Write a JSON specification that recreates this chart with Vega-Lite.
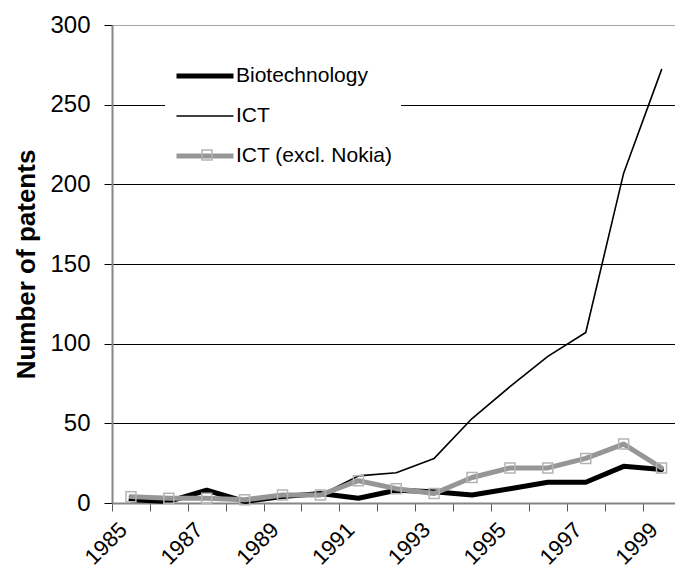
{
  "$schema": "https://vega.github.io/schema/vega-lite/v6.json",
  "width": 563,
  "height": 478,
  "autosize": {"type": "none"},
  "padding": {"left": 112, "top": 25, "right": 0, "bottom": 74},
  "background": "white",
  "config": {"view": {"stroke": null}, "font": "Liberation Sans"},
  "data": {"values": [
    {"year": 1985, "series": "Biotechnology", "value": 2},
    {"year": 1986, "series": "Biotechnology", "value": 1},
    {"year": 1987, "series": "Biotechnology", "value": 8},
    {"year": 1988, "series": "Biotechnology", "value": 1},
    {"year": 1989, "series": "Biotechnology", "value": 4},
    {"year": 1990, "series": "Biotechnology", "value": 6},
    {"year": 1991, "series": "Biotechnology", "value": 3},
    {"year": 1992, "series": "Biotechnology", "value": 8},
    {"year": 1993, "series": "Biotechnology", "value": 7},
    {"year": 1994, "series": "Biotechnology", "value": 5},
    {"year": 1995, "series": "Biotechnology", "value": 9},
    {"year": 1996, "series": "Biotechnology", "value": 13},
    {"year": 1997, "series": "Biotechnology", "value": 13},
    {"year": 1998, "series": "Biotechnology", "value": 23},
    {"year": 1999, "series": "Biotechnology", "value": 21},
    {"year": 1985, "series": "ICT", "value": 4},
    {"year": 1986, "series": "ICT", "value": 3},
    {"year": 1987, "series": "ICT", "value": 3},
    {"year": 1988, "series": "ICT", "value": 2},
    {"year": 1989, "series": "ICT", "value": 5},
    {"year": 1990, "series": "ICT", "value": 5},
    {"year": 1991, "series": "ICT", "value": 17},
    {"year": 1992, "series": "ICT", "value": 19},
    {"year": 1993, "series": "ICT", "value": 28},
    {"year": 1994, "series": "ICT", "value": 53},
    {"year": 1995, "series": "ICT", "value": 73},
    {"year": 1996, "series": "ICT", "value": 92},
    {"year": 1997, "series": "ICT", "value": 107},
    {"year": 1998, "series": "ICT", "value": 207},
    {"year": 1999, "series": "ICT", "value": 272},
    {"year": 1985, "series": "ICT (excl. Nokia)", "value": 4},
    {"year": 1986, "series": "ICT (excl. Nokia)", "value": 3},
    {"year": 1987, "series": "ICT (excl. Nokia)", "value": 3},
    {"year": 1988, "series": "ICT (excl. Nokia)", "value": 2},
    {"year": 1989, "series": "ICT (excl. Nokia)", "value": 5},
    {"year": 1990, "series": "ICT (excl. Nokia)", "value": 5},
    {"year": 1991, "series": "ICT (excl. Nokia)", "value": 14},
    {"year": 1992, "series": "ICT (excl. Nokia)", "value": 9},
    {"year": 1993, "series": "ICT (excl. Nokia)", "value": 6},
    {"year": 1994, "series": "ICT (excl. Nokia)", "value": 16},
    {"year": 1995, "series": "ICT (excl. Nokia)", "value": 22},
    {"year": 1996, "series": "ICT (excl. Nokia)", "value": 22},
    {"year": 1997, "series": "ICT (excl. Nokia)", "value": 28},
    {"year": 1998, "series": "ICT (excl. Nokia)", "value": 37},
    {"year": 1999, "series": "ICT (excl. Nokia)", "value": 22}
  ]},
  "layer": [
    {
      "mark": {"type": "line", "strokeJoin": "round", "strokeCap": "round"},
      "encoding": {
        "x": {
          "field": "year", "type": "quantitative",
          "scale": {"domain": [1984.5, 1999.355], "nice": false, "zero": false},
          "axis": {
            "values": [1985, 1986, 1987, 1988, 1989, 1990, 1991, 1992, 1993, 1994, 1995, 1996, 1997, 1998, 1999],
            "tickOffset": -18.95,
            "labelExpr": "datum.value % 2 == 1 ? '' + datum.value : ''",
            "labelAngle": -45, "labelAlign": "right", "labelBaseline": "middle",
            "labelFont": "Liberation Sans", "labelFontSize": 22, "labelColor": "black",
            "labelPadding": 15, "labelOffset": 11, "labelOverlap": false, "labelBound": false, "labelFlush": false,
            "tickSize": 8, "tickColor": "#595959", "tickWidth": 1,
            "domainColor": "#868686", "domainWidth": 2,
            "grid": false, "title": null
          }
        },
        "y": {
          "field": "value", "type": "quantitative",
          "scale": {"domain": [0, 300], "nice": false},
          "axis": {
            "values": [0, 50, 100, 150, 200, 250, 300],
            "grid": true,
            "gridColor": {"condition": {"test": "datum.value == 300 || datum.value == 0", "value": "#a6a6a6"}, "value": "black"},
            "gridWidth": 1,
            "tickSize": 8, "tickColor": "black",
            "labelFont": "Liberation Sans", "labelFontSize": 24, "labelColor": "black", "labelPadding": 14,
            "domainColor": "#868686", "domainWidth": 2,
            "title": "Number of patents", "titleFont": "Liberation Sans", "titleFontSize": 26,
            "titleFontWeight": "bold", "titleColor": "black", "titlePadding": 10
          }
        },
        "color": {
          "field": "series", "type": "nominal",
          "scale": {"domain": ["Biotechnology", "ICT", "ICT (excl. Nokia)"], "range": ["black", "black", "#969696"]},
          "legend": {
            "title": null, "orient": "none", "legendX": 53, "legendY": 32.5,
            "padding": 8, "fillColor": "white",
            "symbolType": "M-1,0H7.14", "symbolSize": 196,
            "labelFont": "Liberation Sans", "labelFontSize": 21, "labelColor": "black",
            "labelOffset": 42, "rowPadding": 18, "labelLimit": 300, "zindex": 1
          }
        },
        "strokeWidth": {
          "field": "series", "type": "nominal",
          "scale": {"type": "ordinal", "domain": ["Biotechnology", "ICT", "ICT (excl. Nokia)"], "range": [5, 1.6, 5]}
        }
      }
    },
    {
      "transform": [{"filter": "datum.series == 'ICT (excl. Nokia)'"}],
      "mark": {"type": "point", "filled": false, "strokeWidth": 1.5, "color": "#b4b4b4", "size": 100, "opacity": 1},
      "encoding": {
        "x": {"field": "year", "type": "quantitative"},
        "y": {"field": "value", "type": "quantitative"},
        "shape": {
          "field": "series", "type": "nominal",
          "scale": {"domain": ["ICT (excl. Nokia)"], "range": ["square"]},
          "legend": {
            "title": null, "orient": "none", "legendX": 84.5, "legendY": 119.5,
            "padding": 0, "labelFontSize": 21, "labelExpr": "''",
            "symbolSize": 100, "symbolStrokeWidth": 1.5, "symbolStrokeColor": "#b4b4b4",
            "symbolFillColor": "transparent", "zindex": 2
          }
        }
      }
    }
  ]
}
